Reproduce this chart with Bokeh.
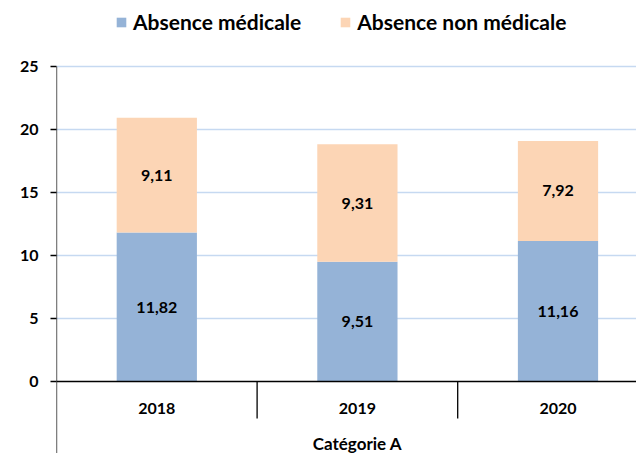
from bokeh.plotting import figure
from bokeh.models import Range1d, FixedTicker, ColumnDataSource, Legend, LegendItem
from bokeh.core.properties import value
from bokeh.embed import file_html
from bokeh.resources import INLINE

years = ["2018", "2019", "2020"]
medicale = [11.82, 9.51, 11.16]
non_medicale = [9.11, 9.31, 7.92]
group_label = "Catégorie A"
series_names = ["Absence médicale", "Absence non médicale"]
y_ticks = [0, 5, 10, 15, 20, 25]
y_max = 25

FONT = "Lato"
PX_PER_UNIT = 12.6
W, H = 636, 453
LEFT = 56          # y axis position
ZERO_PX = 381      # pixel row of value 0
CAT_PX = 200.6     # pixel width of one category

xs = [i + 0.5 for i in range(len(years))]
totals = [a + b for a, b in zip(medicale, non_medicale)]
y_lo = -(H - ZERO_PX) / PX_PER_UNIT
y_hi = ZERO_PX / PX_PER_UNIT

p = figure(width=W, height=H, output_backend="svg", toolbar_location=None,
           min_border_left=LEFT, min_border_right=0, min_border_top=0, min_border_bottom=0)
p.x_range = Range1d(0, (W - LEFT) / CAT_PX)
p.y_range = Range1d(y_lo, y_hi)
p.outline_line_color = None
p.background_fill_color = "white"
p.border_fill_color = "white"

p.xaxis.visible = False
p.xgrid.visible = False
yax = p.yaxis[0]
yax.ticker = FixedTicker(ticks=y_ticks)
yax.axis_line_color = None
yax.major_tick_line_color = "black"
yax.major_tick_line_width = 1.3
yax.major_tick_out = 6
yax.major_tick_in = 0
yax.minor_tick_line_color = None
yax.major_label_text_font = FONT
yax.major_label_text_font_style = "bold"
yax.major_label_text_font_size = "16px"
yax.major_label_text_color = "black"
yax.major_label_standoff = 12

p.ygrid.ticker = FixedTicker(ticks=y_ticks[1:])
p.ygrid.grid_line_color = "#c6d9f1"
p.ygrid.grid_line_width = 1.5

src = ColumnDataSource(dict(x=xs, med=medicale, non=non_medicale, tot=totals,
                            med_mid=[m / 2 for m in medicale],
                            non_mid=[m + n / 2 for m, n in zip(medicale, non_medicale)],
                            med_lbl=[f"{v:.2f}".replace(".", ",") for v in medicale],
                            non_lbl=[f"{v:.2f}".replace(".", ",") for v in non_medicale]))

r1 = p.vbar(x="x", bottom=0, top="med", width=0.4, source=src,
            fill_color="#95b3d7", line_color=None)
r2 = p.vbar(x="x", bottom="med", top="tot", width=0.4, source=src,
            fill_color="#fcd5b5", line_color=None)

for col, lbl in (("med_mid", "med_lbl"), ("non_mid", "non_lbl")):
    p.text(x="x", y=col, text=lbl, source=src, text_align="center", text_baseline="middle",
           text_font=value(FONT), text_font_style="bold", text_font_size="16px",
           text_color="black")

# vertical axis line, from top of value axis down through the category area
p.segment(x0=[0], y0=[y_lo], x1=[0], y1=[y_max], line_color="black", line_width=1.3)
# category axis line
p.segment(x0=[0], y0=[0], x1=[(W - LEFT) / CAT_PX], y1=[0], line_color="black", line_width=1.3)
# separators between categories
sep_x = list(range(1, len(years)))
p.segment(x0=sep_x, y0=[0] * len(sep_x), x1=sep_x, y1=[-37 / PX_PER_UNIT] * len(sep_x),
          line_color="black", line_width=1.3)
p.text(x=xs, y=[-27 / PX_PER_UNIT] * len(xs), text=years, text_align="center",
       text_baseline="middle", text_font=value(FONT), text_font_style="bold",
       text_font_size="16px", text_color="black")
p.text(x=[len(years) / 2], y=[-62 / PX_PER_UNIT], text=[group_label], text_align="center",
       text_baseline="middle", text_font=value(FONT), text_font_style="bold",
       text_font_size="17px", text_color="black")

legend = Legend(items=[LegendItem(label=series_names[0], renderers=[r1]),
                       LegendItem(label=series_names[1], renderers=[r2])],
                orientation="horizontal", location=(115 - LEFT, H - 34),
                label_text_font=FONT, label_text_font_style="bold",
                label_text_font_size="21px", label_text_color="black",
                glyph_width=12, glyph_height=12, spacing=38, padding=0, margin=0,
                label_standoff=6, border_line_color=None, background_fill_alpha=0)
p.add_layout(legend, "center")

open("out.html", "w").write(file_html(p, INLINE))
